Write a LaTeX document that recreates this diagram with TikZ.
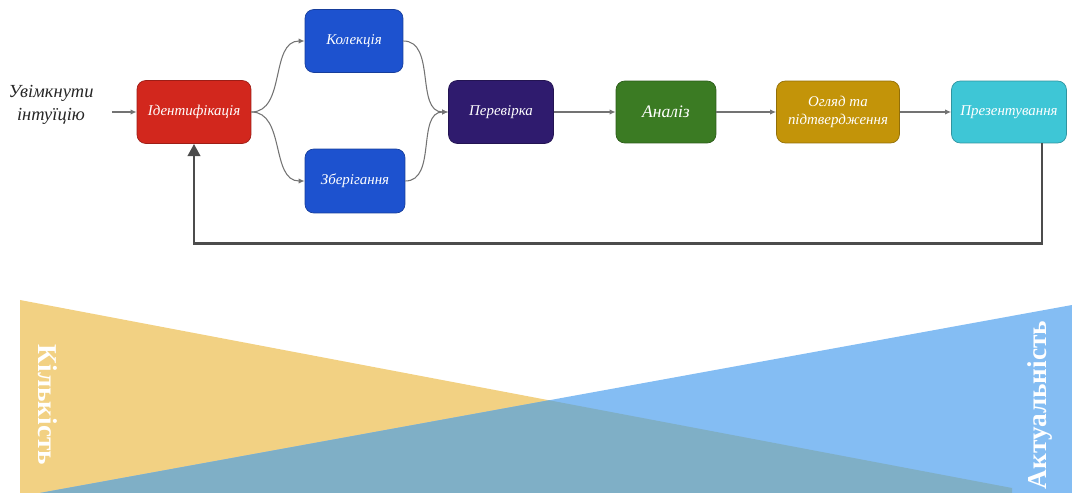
\documentclass[tikz,border=0pt]{standalone}
\usepackage{fontspec}
\setmainfont{Liberation Serif}
\usetikzlibrary{arrows.meta}

\definecolor{identred}{HTML}{D2271D}
\definecolor{stageblue}{HTML}{1D52CF}
\definecolor{checkpurple}{HTML}{2F1B6E}
\definecolor{analysisgreen}{HTML}{3B7B23}
\definecolor{reviewgold}{HTML}{C39409}
\definecolor{presentcyan}{HTML}{3EC6D6}
\definecolor{qtyyellow}{HTML}{F2D183}
\definecolor{relblue}{HTML}{84BDF3}
\definecolor{mixblue}{HTML}{7FAFC6}

\tikzset{
  stage/.style={rectangle, rounded corners=5pt, fill=#1, draw=#1!75!black,
    line width=0.4pt, text=white, align=center, inner sep=2pt,
    font=\itshape\fontsize{8.5}{10}\selectfont},
  flow/.style={draw=black!55, line width=0.6pt, -{Latex[length=3.5pt,width=3pt]}},
  back/.style={draw=black!70, line width=1.7pt, -{Triangle[length=7pt,width=7pt]}},
  axislabel/.style={text=white, font=\bfseries\fontsize{15.5}{16}\selectfont}
}

\begin{document}
\begin{tikzpicture}[x=0.02cm, y=-0.02cm]
  \useasboundingbox (0,0) rectangle (1072,493);

  % bottom wedges
  \fill[qtyyellow] (20,300) -- (1012,488) -- (1012,493) -- (20,493) -- cycle;
  \fill[relblue] (1072,305) -- (1072,493) -- (40,493) -- cycle;
  \begin{scope}
    \clip (20,300) -- (1012,488) -- (1012,493) -- (20,493) -- cycle;
    \fill[mixblue] (1072,305) -- (1072,493) -- (40,493) -- cycle;
  \end{scope}
  \node[axislabel, rotate=-90] (qty) at (48,405) {Кількість};
  \node[axislabel, rotate=90] (rel) at (1040,405) {Актуальність};

  % process
  \node[text=black!85, align=center, font=\itshape\fontsize{10.5}{13}\selectfont] (start) at (51,105) {Увімкнути\\інтуїцію};
  \node[stage=identred, minimum width=2.28cm, minimum height=1.26cm] (ident) at (194,112) {Ідентифікація};
  \node[stage=stageblue, minimum width=1.96cm, minimum height=1.26cm] (coll) at (354,41) {Колекція};
  \node[stage=stageblue, minimum width=2cm, minimum height=1.28cm] (store) at (355,181) {Зберігання};
  \node[stage=checkpurple, minimum width=2.1cm, minimum height=1.26cm] (check) at (501,112) {Перевірка};
  \node[stage=analysisgreen, minimum width=2cm, minimum height=1.24cm, font=\itshape\fontsize{10}{12}\selectfont] (anal) at (666,112) {Аналіз};
  \node[stage=reviewgold, minimum width=2.46cm, minimum height=1.24cm] (review) at (838,112) {Огляд та\\підтвердження};
  \node[stage=presentcyan, minimum width=2.3cm, minimum height=1.24cm] (present) at (1009,112) {Презентування};

  \draw[flow, shorten <=7pt] (start.east |- ident.west) -- (ident.west);
  \draw[flow] (ident.east) to[out=0, in=180] (coll.west);
  \draw[flow] (ident.east) to[out=0, in=180] (store.west);
  \draw[flow] (coll.east) to[out=0, in=180] (check.west);
  \draw[flow] (store.east) to[out=0, in=180] (check.west);
  \draw[flow] (check) -- (anal);
  \draw[flow] (anal) -- (review);
  \draw[flow] (review) -- (present);
  \draw[back] ([xshift=0.66cm]present.south) -- ++(0,100) -| (ident.south);
\end{tikzpicture}
\end{document}
